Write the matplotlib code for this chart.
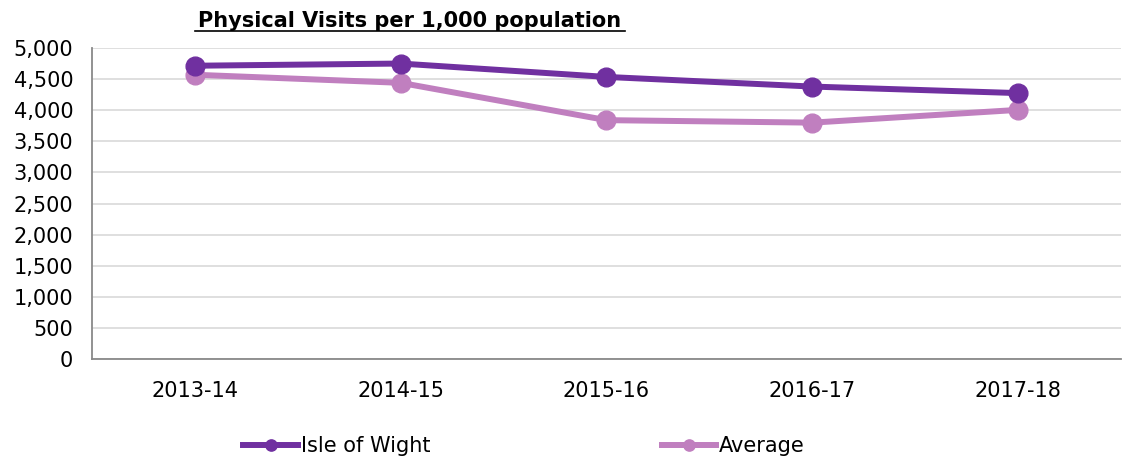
import matplotlib
matplotlib.use("Agg")
import matplotlib.pyplot as plt

years = ["2013-14", "2014-15", "2015-16", "2016-17", "2017-18"]
isle_of_wight = [4715, 4750, 4535, 4380, 4275]
average = [4570, 4440, 3840, 3800, 4005]

iow_color = "#7030A0"
avg_color = "#C07FBF"

plt.rcParams["font.family"] = ["DejaVu Sans"]

fig = plt.figure(figsize=(11.22, 4.59), dpi=100)
ax = fig.add_axes([92 / 1122, 1 - 359 / 459, 1 - 92 / 1122 - 0.001, (359 - 48) / 459])

x = list(range(len(years)))
ax.plot(x, isle_of_wight, color=iow_color, lw=4.3, marker="o", ms=13.5,
        label="Isle of Wight", zorder=4)
ax.plot(x, average, color=avg_color, lw=4.3, marker="o", ms=13.5,
        label="Average", zorder=3)

ax.set_xlim(-0.5, len(years) - 0.5)
ax.set_ylim(0, 5000)
ax.set_yticks(range(0, 5001, 500))
ax.set_yticklabels([f"{v:,}" for v in range(0, 5001, 500)])
ax.set_xticks(x)
ax.set_xticklabels(years)
ax.tick_params(length=0, labelsize=15, colors="black")
ax.tick_params(axis="x", pad=16)
ax.tick_params(axis="y", pad=13.5)
ax.grid(axis="y", color="#D9D9D9", lw=1.2)
ax.set_axisbelow(True)
for s in ["top", "right"]:
    ax.spines[s].set_visible(False)
ax.spines["left"].set_color("#898989")
ax.spines["bottom"].set_color("#898989")
ax.spines["left"].set_linewidth(1.3)
ax.spines["bottom"].set_linewidth(1.3)

fig.text(410 / 1122, 1 - 21 / 459, "Physical Visits per 1,000 population",
         ha="center", va="center", fontsize=15, fontweight="bold", color="black")
# underline for the title
fig.add_artist(plt.Line2D([195 / 1122, 625 / 1122], [1 - 31 / 459, 1 - 31 / 459],
                          color="black", lw=1.2))

handles, labels = ax.get_legend_handles_labels()
leg = fig.legend(handles, labels, loc="center", bbox_to_anchor=(524 / 1122, 1 - 446 / 459),
                 ncol=2, frameon=False, fontsize=15, handlelength=2.6, handletextpad=0.15,
                 columnspacing=11.1, markerscale=0.6)

fig.savefig("out.png", dpi=100)
